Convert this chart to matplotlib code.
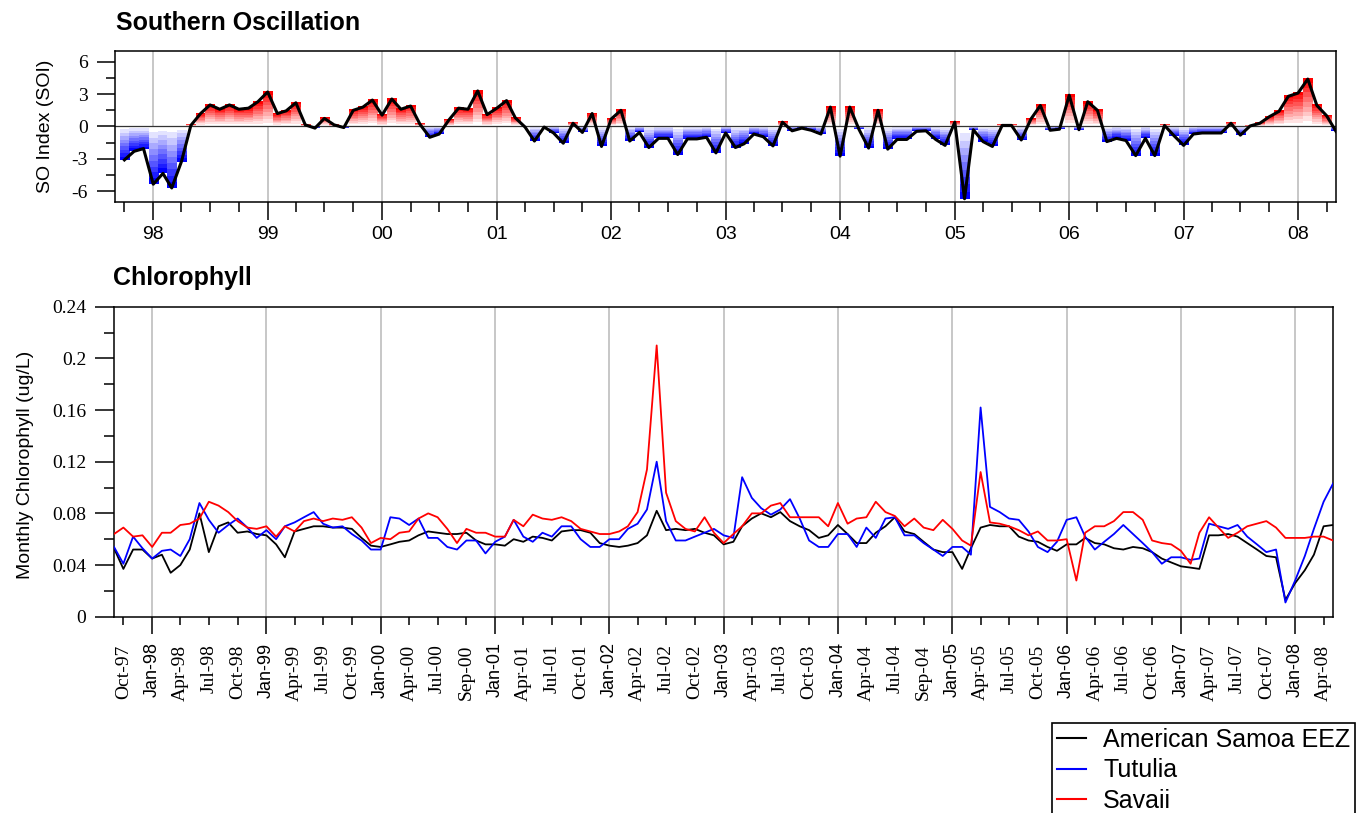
"""Southern Oscillation index and monthly chlorophyll around Samoa"""
import numpy as np
import pandas as pd
import matplotlib
matplotlib.use('Agg')
import matplotlib.pyplot as plt
import matplotlib.dates as mdates
from matplotlib.colors import LinearSegmentedColormap
from matplotlib.lines import Line2D

SERIF = 'Liberation Serif'
SANS = 'Liberation Sans'
plt.rcParams['axes.unicode_minus'] = False

# Monthly SOI, Oct 1997 - May 2008
soi_start = '1997-10-01'
soi_values = [
    -3.1, -2.3, -2.05,
    -5.35, -4.35, -5.7, -3.25, 0.1, 1.2, 2.0, 1.6, 2.0, 1.6, 1.7, 2.3,
    3.2, 1.2, 1.45, 2.2, 0.15, -0.15, 0.75, 0.15, -0.1, 1.5, 1.8, 2.45,
    1.05, 2.55, 1.6, 1.9, 0.2, -1.0, -0.7, 0.6, 1.7, 1.6, 3.3, 1.1,
    1.7, 2.4, 0.8, -0.05, -1.35, -0.05, -0.6, -1.55, 0.3, -0.55, 1.2, -1.85,
    0.7, 1.5, -1.35, -0.55, -1.95, -1.1, -1.1, -2.6, -1.15, -1.15, -1.0, -2.45,
    -0.6, -1.95, -1.6, -0.7, -0.95, -1.8, 0.4, -0.4, -0.15, -0.35, -0.7, 1.8,
    -2.75, 1.8, -0.25, -2.0, 1.5, -2.1, -1.2, -1.2, -0.45, -0.4, -1.2, -1.75,
    0.4, -6.7, -0.3, -1.4, -1.85, 0.1, 0.1, -1.25, 0.7, 1.95, -0.35, -0.25,
    2.9, -0.3, 2.3, 1.5, -1.4, -1.1, -1.3, -2.7, -1.1, -2.7, 0.1, -0.85,
    -1.75, -0.7, -0.6, -0.6, -0.6, 0.3, -0.8, 0.05, 0.3, 0.9, 1.4, 2.8,
    3.1, 4.4, 1.95, 1.0, -0.45,
]

# Monthly chlorophyll (ug/L), Sep 1997 - May 2008
chl_start = '1997-09-01'
chl_eez = [
    0.053, 0.037, 0.052, 0.052, 0.045, 0.048, 0.034, 0.040, 0.052, 0.080,
    0.050, 0.070, 0.073, 0.065, 0.066, 0.064, 0.063, 0.056, 0.046, 0.066,
    0.068, 0.070, 0.070, 0.069, 0.069, 0.068, 0.061, 0.055, 0.054, 0.056,
    0.058, 0.059, 0.063, 0.066, 0.065, 0.064, 0.064, 0.065, 0.059, 0.056,
    0.056, 0.055, 0.060, 0.058, 0.062, 0.061, 0.059, 0.066, 0.067, 0.067,
    0.065, 0.057, 0.055, 0.054, 0.055, 0.057, 0.063, 0.082, 0.067, 0.068,
    0.067, 0.068, 0.065, 0.063, 0.056, 0.058, 0.070, 0.076, 0.080, 0.077,
    0.081, 0.074, 0.070, 0.067, 0.061, 0.063, 0.071, 0.064, 0.057, 0.057,
    0.065, 0.070, 0.077, 0.066, 0.064, 0.058, 0.052, 0.050, 0.050, 0.037,
    0.053, 0.069, 0.071, 0.070, 0.070, 0.062, 0.059, 0.058, 0.054, 0.051,
    0.056, 0.056, 0.061, 0.057, 0.056, 0.053, 0.052, 0.054, 0.053, 0.050,
    0.045, 0.042, 0.039, 0.038, 0.037, 0.063, 0.063, 0.064, 0.062, 0.057,
    0.052, 0.047, 0.046, 0.013, 0.026, 0.036, 0.048, 0.070, 0.071,
]
chl_tutuila = [
    0.054, 0.041, 0.062, 0.053, 0.045, 0.051, 0.052, 0.047, 0.060, 0.088,
    0.075, 0.065, 0.071, 0.076, 0.069, 0.061, 0.067, 0.060, 0.070, 0.073,
    0.077, 0.081, 0.072, 0.069, 0.070, 0.064, 0.059, 0.052, 0.052, 0.077,
    0.076, 0.071, 0.076, 0.061, 0.061, 0.054, 0.052, 0.059, 0.059, 0.049,
    0.058, 0.062, 0.075, 0.062, 0.058, 0.065, 0.062, 0.070, 0.070, 0.060,
    0.054, 0.054, 0.060, 0.060, 0.068, 0.072, 0.083, 0.120, 0.074, 0.059,
    0.059, 0.062, 0.065, 0.068, 0.063, 0.061, 0.108, 0.092, 0.084, 0.079,
    0.083, 0.091, 0.076, 0.059, 0.054, 0.054, 0.064, 0.064, 0.054, 0.069,
    0.061, 0.076, 0.077, 0.063, 0.063, 0.057, 0.052, 0.047, 0.054, 0.054,
    0.048, 0.162, 0.085, 0.081, 0.076, 0.075, 0.066, 0.054, 0.050, 0.058,
    0.075, 0.077, 0.062, 0.052, 0.058, 0.064, 0.071, 0.064, 0.057, 0.050,
    0.041, 0.046, 0.046, 0.044, 0.045, 0.072, 0.070, 0.068, 0.071, 0.062,
    0.056, 0.050, 0.052, 0.011, 0.028, 0.047, 0.068, 0.089, 0.103,
]
chl_savaii = [
    0.064, 0.069, 0.062, 0.063, 0.054, 0.065, 0.065, 0.071, 0.072, 0.076,
    0.089, 0.086, 0.081, 0.074, 0.069, 0.068, 0.070, 0.062, 0.070, 0.066,
    0.074, 0.076, 0.074, 0.076, 0.075, 0.077, 0.069, 0.057, 0.061, 0.060,
    0.065, 0.066, 0.076, 0.080, 0.077, 0.068, 0.057, 0.068, 0.065, 0.065,
    0.062, 0.062, 0.075, 0.070, 0.079, 0.076, 0.075, 0.077, 0.074, 0.068,
    0.066, 0.064, 0.064, 0.066, 0.070, 0.081, 0.114, 0.210, 0.096, 0.074,
    0.068, 0.066, 0.077, 0.065, 0.057, 0.064, 0.070, 0.080, 0.080, 0.086,
    0.088, 0.077, 0.077, 0.077, 0.077, 0.070, 0.088, 0.072, 0.076, 0.077,
    0.089, 0.081, 0.078, 0.070, 0.076, 0.069, 0.067, 0.075, 0.068, 0.059,
    0.055, 0.112, 0.073, 0.072, 0.070, 0.067, 0.063, 0.066, 0.059, 0.059,
    0.060, 0.028, 0.065, 0.070, 0.070, 0.074, 0.081, 0.081, 0.075, 0.059,
    0.057, 0.056, 0.051, 0.041, 0.065, 0.077, 0.069, 0.061, 0.065, 0.070,
    0.072, 0.074, 0.069, 0.061, 0.061, 0.061, 0.062, 0.062, 0.059,
]
series_names = ['American Samoa EEZ', 'Tutulia', 'Savaii']
series_colors = ['black', 'blue', 'red']

year_labels = ['98', '99', '00', '01', '02', '03', '04', '05', '06', '07', '08']
month_labels = [
    'Oct-97', 'Jan-98', 'Apr-98', 'Jul-98', 'Oct-98', 'Jan-99', 'Apr-99', 'Jul-99',
    'Oct-99', 'Jan-00', 'Apr-00', 'Jul-00', 'Sep-00', 'Jan-01', 'Apr-01', 'Jul-01',
    'Oct-01', 'Jan-02', 'Apr-02', 'Jul-02', 'Oct-02', 'Jan-03', 'Apr-03', 'Jul-03',
    'Oct-03', 'Jan-04', 'Apr-04', 'Jul-04', 'Sep-04', 'Jan-05', 'Apr-05', 'Jul-05',
    'Oct-05', 'Jan-06', 'Apr-06', 'Jul-06', 'Oct-06', 'Jan-07', 'Apr-07', 'Jul-07',
    'Oct-07', 'Jan-08', 'Apr-08',
]

soi_dates = pd.date_range(soi_start, periods=len(soi_values), freq='MS')
chl_dates = pd.date_range(chl_start, periods=len(chl_eez), freq='MS')
x_min = mdates.date2num(pd.Timestamp('1997-09-01'))
x_max = mdates.date2num(pd.Timestamp('2008-05-01'))

# quarterly ticks (every 3 months from Oct-97), Jan ones are the major ticks
quarter_dates = pd.date_range('1997-10-01', periods=len(month_labels), freq='3MS')
jan_dates = [d for d in quarter_dates if d.month == 1]
other_dates = [d for d in quarter_dates if d.month != 1]
jan_labels = [l for d, l in zip(quarter_dates, month_labels) if d.month == 1]
other_labels = [l for d, l in zip(quarter_dates, month_labels) if d.month != 1]

fig = plt.figure(figsize=(13.58, 8.13), dpi=100)
W, H = 1358, 813
ax1 = fig.add_axes([115 / W, 1 - 202 / H, 1221 / W, 151 / H])
ax2 = fig.add_axes([114 / W, 1 - 616.7 / H, 1219 / W, 310 / H])

# ---- Southern Oscillation: gradient bars + line
red_cmap = LinearSegmentedColormap.from_list('soi_red', ['white', 'red'])
blue_cmap = LinearSegmentedColormap.from_list('soi_blue', ['white', 'blue'])
grad = np.linspace(0, 1, 10).reshape(-1, 1)
for d, v in zip(soi_dates, soi_values):
    if v == 0:
        continue
    x0 = mdates.date2num(d - pd.Timedelta(days=15))
    x1 = mdates.date2num(d + pd.Timedelta(days=15))
    cmap = red_cmap if v > 0 else blue_cmap
    ax1.imshow(grad, cmap=cmap, extent=(x0, x1, 0, v), origin='lower',
               aspect='auto', interpolation='nearest', zorder=1)
ax1.axhline(0, color='#333333', lw=0.9, zorder=2)
ax1.plot(mdates.date2num(soi_dates), soi_values, color='black', lw=2.2, zorder=3)

ax1.set_xlim(x_min, x_max)
ax1.set_ylim(-7, 7)
ax1.set_yticks([-6, -3, 0, 3, 6], labels=['-6', '-3', '0', '3', '6'])
ax1.set_yticks(np.arange(-6, 6.1, 1.5), minor=True)
ax1.set_xticks(mdates.date2num(jan_dates), labels=year_labels)
ax1.set_xticks(mdates.date2num(quarter_dates), minor=True)
ax1.set_ylabel('SO Index (SOI)', fontfamily=SANS, fontsize=14)
ax1.yaxis.set_label_coords(-0.050, 0.5)
for lab in ax1.get_yticklabels():
    lab.set_fontfamily(SERIF)
    lab.set_fontsize(14)
for lab in ax1.get_xticklabels():
    lab.set_fontfamily(SANS)
    lab.set_fontsize(14)
ax1.tick_params(axis='x', which='major', length=13, width=1.1, pad=4)
ax1.tick_params(axis='x', which='minor', length=7, width=1.1)
ax1.tick_params(axis='y', which='major', length=13, width=1.1, pad=6.5)
ax1.tick_params(axis='y', which='minor', length=6.5, width=1.1)

# ---- Chlorophyll lines
for vals, name, col in zip([chl_eez, chl_tutuila, chl_savaii], series_names, series_colors):
    ax2.plot(mdates.date2num(chl_dates), vals, color=col, lw=1.3, label=name, zorder=3)

ax2.set_xlim(x_min, x_max)
ax2.set_ylim(0, 0.24)
ax2.set_yticks([0, 0.04, 0.08, 0.12, 0.16, 0.2, 0.24],
               labels=['0', '0.04', '0.08', '0.12', '0.16', '0.2', '0.24'])
ax2.set_yticks(np.arange(0, 0.241, 0.02), minor=True)
ax2.set_xticks(mdates.date2num(jan_dates), labels=jan_labels, rotation=90)
ax2.set_xticks(mdates.date2num(other_dates), labels=other_labels, minor=True, rotation=90)
ax2.set_ylabel('Monthly Chlorophyll (ug/L)', fontfamily=SANS, fontsize=14)
ax2.yaxis.set_label_coords(-0.0656, 0.49)
for lab in ax2.get_yticklabels():
    lab.set_fontfamily(SERIF)
    lab.set_fontsize(14)
for lab in ax2.get_xticklabels():
    lab.set_fontfamily(SANS)
    lab.set_fontsize(13)
for lab in ax2.get_xticklabels(minor=True):
    lab.set_fontfamily(SERIF)
    lab.set_fontsize(14)
ax2.tick_params(axis='x', which='major', length=12.5, width=1.1, pad=6)
ax2.tick_params(axis='x', which='minor', length=6, width=1.1, pad=14)
ax2.tick_params(axis='y', which='major', length=13.5, width=1.1, pad=6.5)
ax2.tick_params(axis='y', which='minor', length=7, width=1.1)

for ax in (ax1, ax2):
    ax.set_axisbelow(True)
    ax.grid(axis='x', which='major', color='#bdbdbd', lw=1.2, zorder=0.5)
    for sp in ax.spines.values():
        sp.set_linewidth(1.1)

fig.text(116 / W, 1 - 23 / H, 'Southern Oscillation', fontfamily=SANS,
         fontweight='bold', fontsize=18, va='center', ha='left')
fig.text(113 / W, 1 - 278 / H, 'Chlorophyll', fontfamily=SANS,
         fontweight='bold', fontsize=18, va='center', ha='left')

# legend box runs past the bottom edge of the figure, as in the original
handles = [Line2D([], [], color=c, lw=1.5) for c in series_colors]
leg = fig.legend(handles, series_names, loc='upper left',
                 bbox_to_anchor=(1052 / W, 1 - 723 / H), borderaxespad=0,
                 prop={'family': SANS, 'size': 18}, frameon=True, fancybox=False,
                 edgecolor='black', framealpha=1, handlelength=1.15,
                 handletextpad=0.7, labelspacing=0.25, borderpad=0.2)
leg.get_frame().set_linewidth(1.2)

fig.savefig('out.png', dpi=100)
